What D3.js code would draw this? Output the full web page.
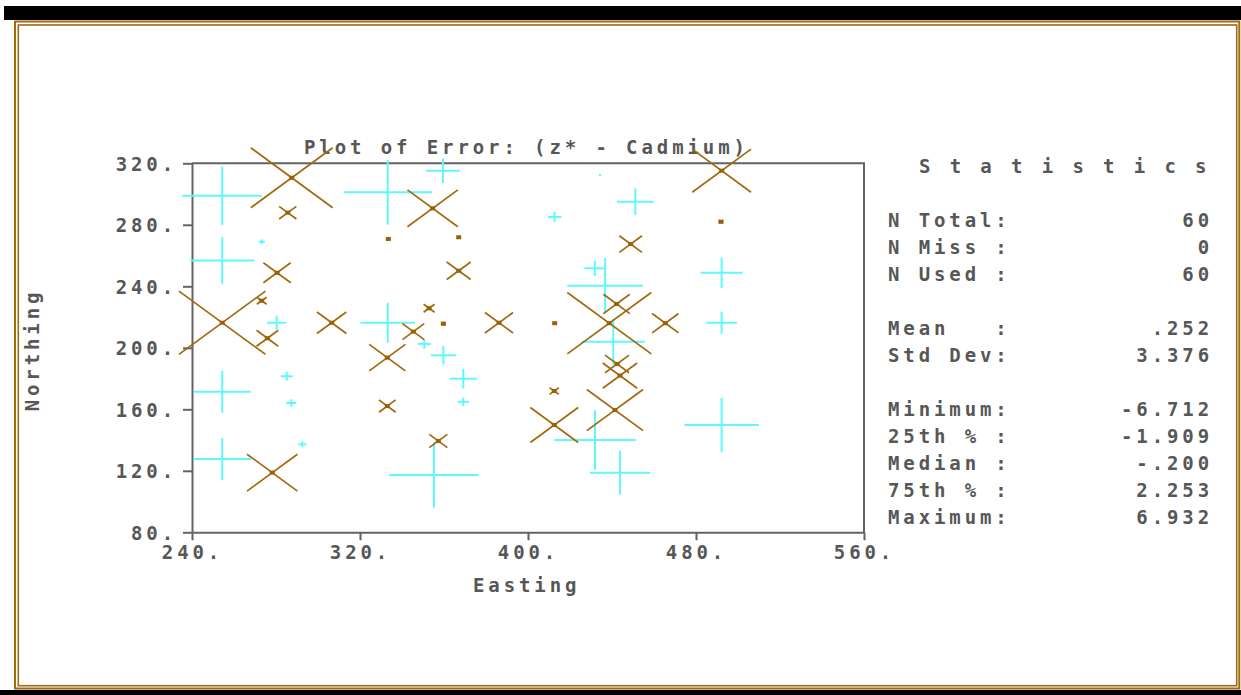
<!DOCTYPE html>
<html>
<head>
<meta charset="utf-8">
<script src="https://cdn.jsdelivr.net/npm/d3@7"></script>
<style>
  body { margin: 0; background: #fff; }
  text { font-family: "DejaVu Sans Mono", monospace; font-weight: bold; fill: #575757; white-space: pre; }
</style>
</head>
<body>
<script>
// error = z* - Cadmium (positive: cyan +, negative: brown x)
const eastings = [254.4, 333.2, 359.5, 273.2, 254.4, 280.3, 333.2, 434.3, 451.1, 412.7,
  431.8, 436.7, 492.2, 492.2, 350.6, 359.7, 369.2, 369.2, 285.1, 287.3,
  292.5, 254.4, 254.4, 355.2, 440.6, 431.9, 443.8, 492.2,
  287.5, 285.6, 354.6, 333.5, 367.0, 280.5, 367.0, 273.2, 254.4, 306.5,
  345.4, 352.9, 359.7, 386.2, 492.2, 491.9, 448.9, 442.2, 438.7, 465.4,
  412.7, 275.9, 333.0, 333.0, 357.3, 278.2, 442.4, 443.8, 412.5, 441.4, 412.5];
const northings = [298.9, 301.1, 315.2, 269.0, 256.7, 216.3, 216.3, 312.4, 295.0, 285.1,
  251.7, 240.4, 248.8, 216.3, 202.5, 195.1, 179.9, 164.9, 181.5, 164.1,
  137.2, 171.4, 127.7, 117.3, 204.0, 140.0, 118.8, 149.8,
  310.6, 287.9, 290.7, 270.8, 271.9, 248.8, 250.1, 230.6, 216.3, 216.3,
  210.5, 225.7, 215.7, 216.3, 315.2, 282.0, 267.5, 228.5, 216.0, 216.0,
  216.0, 206.2, 193.6, 162.1, 139.4, 118.8, 189.5, 181.9, 171.9, 159.5, 149.8];
const errors = [6.19, 6.84, 2.61, 0.49, 4.98, 1.47, 4.23, 0.16, 2.83, 1.04,
  1.60, 5.86, 3.26, 2.35, 1.01, 1.95, 2.08, 0.88, 0.91, 0.78,
  0.62, 4.43, 4.46, 6.93, 4.89, 6.32, 4.66, 5.77,
  -6.35, -1.34, -3.91, -0.16, -0.16, -2.12, -1.86, -0.75, -6.71, -2.28,
  -1.69, -0.85, -0.33, -2.18, -4.56, -0.33, -1.76, -2.05, -6.51, -2.05,
  -0.16, -1.69, -2.80, -1.30, -1.40, -3.91, -1.86, -2.67, -0.72, -4.36, -3.71];

const xTicks = [240, 320, 400, 480, 560];
const yTicks = [80, 120, 160, 200, 240, 280, 320];

const statLabels = ["N Total:", "N Miss :", "N Used :", "Mean   :", "Std Dev:",
  "Minimum:", "25th % :", "Median :", "75th % :", "Maximum:"];
const statValues = ["60", "0", "60", ".252", "3.376", "-6.712", "-1.909", "-.200", "2.253", "6.932"];
const statRows = [0, 1, 2, 4, 5, 7, 8, 9, 10, 11];

const W = 1241, H = 695;
const brown = "#a2690f", cyan = "#5ff8ff", axisCol = "#636363";
const fs = 19, ls = 3.9; // font size, letter spacing

const svg = d3.select("body").append("svg").attr("width", W).attr("height", H);

// frame
svg.append("rect").attr("x", 4).attr("y", 6).attr("width", W - 4).attr("height", 14).attr("fill", "#000");
svg.append("rect").attr("x", 0).attr("y", 690).attr("width", W).attr("height", 5).attr("fill", "#000");
svg.append("rect").attr("x", 15).attr("y", 21.5).attr("width", 1224.3).attr("height", 667)
  .attr("fill", "none").attr("stroke", brown).attr("stroke-width", 2);
svg.append("rect").attr("x", 18.3).attr("y", 25).attr("width", 1218.4).attr("height", 660.7)
  .attr("fill", "none").attr("stroke", brown).attr("stroke-width", 1.6);

const x = d3.scaleLinear().domain([240, 560]).range([192, 864]);
const y = d3.scaleLinear().domain([80, 320]).range([532.3, 163.3]);
const k = 3.07; // marker half size in data units per unit of error

// plot box
svg.append("path")
  .attr("d", `M${x(240)},${y(320)}H${x(560)}V${y(80)}`)
  .attr("fill", "none").attr("stroke", axisCol).attr("stroke-width", 2);

const gx = svg.append("g").attr("transform", `translate(0,${y(80)})`)
  .call(d3.axisBottom(x).tickValues(xTicks).tickSize(8).tickSizeOuter(0).tickFormat(d => d + "."));
const gy = svg.append("g").attr("transform", `translate(${x(240)},0)`)
  .call(d3.axisLeft(y).tickValues(yTicks).tickSize(9).tickSizeOuter(0).tickFormat(d => d + "."));
[gx, gy].forEach(g => {
  g.select(".domain").attr("stroke", axisCol).attr("stroke-width", 2);
  g.selectAll(".tick line").attr("stroke", axisCol).attr("stroke-width", 2);
  g.selectAll("text").attr("font-size", fs).attr("letter-spacing", ls)
    .attr("font-family", null).attr("fill", null);
});
gx.selectAll(".tick text").attr("y", 13).attr("dy", "0.71em").attr("dx", 0);
gy.selectAll(".tick text").attr("x", -15).attr("dy", "0.36em");

// titles
svg.append("text").attr("x", 304).attr("y", 154).attr("font-size", fs).attr("letter-spacing", ls)
  .text("Plot of Error: (z* - Cadmium)");
svg.append("text").attr("x", 473).attr("y", 592).attr("font-size", fs).attr("letter-spacing", ls)
  .text("Easting");
svg.append("text").attr("transform", "translate(39,350) rotate(-90)").attr("text-anchor", "middle")
  .attr("font-size", fs).attr("letter-spacing", ls).text("Northing");

// markers
const pts = eastings.map((e, i) => ({ e: e, n: northings[i], err: errors[i] }));

const plus = svg.append("g").selectAll("g").data(pts.filter(d => d.err > 0)).join("g");
plus.append("line")
  .attr("x1", d => x(d.e - k * d.err)).attr("x2", d => x(d.e + k * d.err))
  .attr("y1", d => y(d.n)).attr("y2", d => y(d.n));
plus.append("line")
  .attr("x1", d => x(d.e)).attr("x2", d => x(d.e))
  .attr("y1", d => y(d.n - k * d.err)).attr("y2", d => y(d.n + k * d.err));
plus.selectAll("line").attr("stroke", cyan).attr("stroke-width", 2);

const cross = svg.append("g").selectAll("g").data(pts.filter(d => d.err < 0)).join("g");
cross.append("line")
  .attr("x1", d => x(d.e + k * d.err)).attr("x2", d => x(d.e - k * d.err))
  .attr("y1", d => y(d.n + k * d.err)).attr("y2", d => y(d.n - k * d.err));
cross.append("line")
  .attr("x1", d => x(d.e + k * d.err)).attr("x2", d => x(d.e - k * d.err))
  .attr("y1", d => y(d.n - k * d.err)).attr("y2", d => y(d.n + k * d.err));
cross.selectAll("line").attr("stroke", brown).attr("stroke-width", 1.7);
cross.append("rect")
  .attr("x", d => x(d.e) - 2.5).attr("y", d => y(d.n) - 2)
  .attr("width", 5).attr("height", 4).attr("fill", "#9a6008");

// statistics panel
svg.append("text").attr("x", 919).attr("y", 173).attr("font-size", fs).attr("letter-spacing", ls)
  .text("S t a t i s t i c s");
const rows = svg.append("g").selectAll("g").data(statLabels).join("g")
  .attr("transform", (d, i) => `translate(0,${227 + 27 * statRows[i]})`);
rows.append("text").attr("x", 888).attr("font-size", fs).attr("letter-spacing", ls).text(d => d);
rows.append("text").attr("x", 1213).attr("text-anchor", "end").attr("font-size", fs)
  .attr("letter-spacing", ls).text((d, i) => statValues[i]);
</script>
</body>
</html>
